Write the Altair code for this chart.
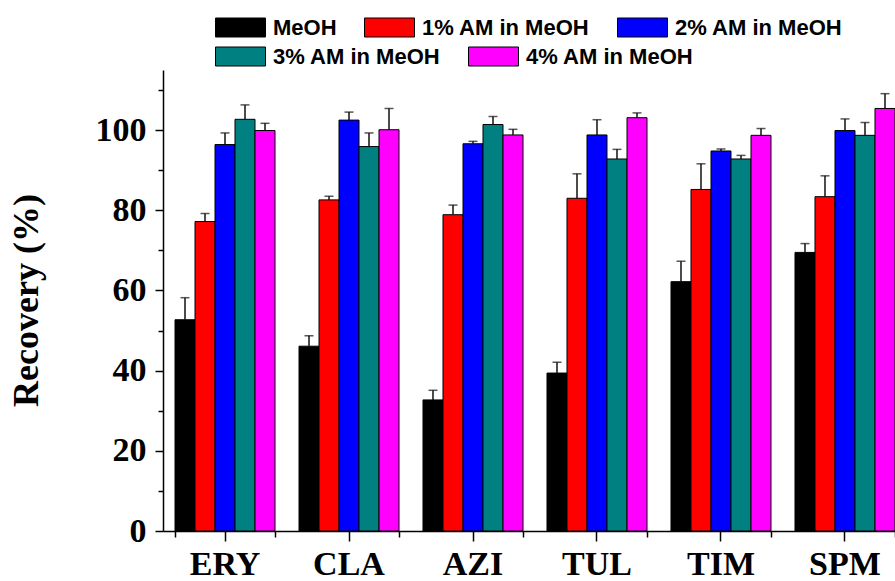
import altair as alt
import pandas as pd

drugs = ["ERY", "CLA", "AZI", "TUL", "TIM", "SPM"]
solvents = ["MeOH", "1% AM in MeOH", "2% AM in MeOH", "3% AM in MeOH", "4% AM in MeOH"]
colors = ["#000000", "#FF0000", "#0000FF", "#008080", "#FF00FF"]

meoh = [52.7, 46.1, 32.7, 39.4, 62.2, 69.5]
meoh_err = [5.5, 2.6, 2.4, 2.7, 5.1, 2.2]
am1 = [77.2, 82.6, 78.9, 83.0, 85.2, 83.4]
am1_err = [2.0, 0.9, 2.4, 6.1, 6.4, 5.2]
am2 = [96.4, 102.5, 96.6, 98.8, 94.8, 99.9]
am2_err = [2.9, 2.0, 0.6, 3.8, 0.5, 2.9]
am3 = [102.7, 95.9, 101.4, 92.8, 92.8, 98.7]
am3_err = [3.6, 3.4, 2.0, 2.4, 0.9, 3.2]
am4 = [99.9, 100.1, 98.8, 103.1, 98.7, 105.4]
am4_err = [1.8, 5.3, 1.4, 1.2, 1.7, 3.7]

y_major = [0, 20, 40, 60, 80, 100]
y_minor = [10, 30, 50, 70, 90, 110]

series = [meoh, am1, am2, am3, am4]
errors = [meoh_err, am1_err, am2_err, am3_err, am4_err]
rows = []
for s, vals, errs in zip(solvents, series, errors):
    for d, v, e in zip(drugs, vals, errs):
        rows.append({"drug": d, "solvent": s, "value": v, "err": e, "top": v + e})
df = pd.DataFrame(rows)

x_scale = alt.Scale(domain=drugs, range=[0, 744], paddingInner=0.1935, paddingOuter=0.0968)
xoff_scale = alt.Scale(domain=solvents, paddingInner=0, paddingOuter=0)
y_scale = alt.Scale(domain=[0, 115], nice=False, zero=True)

serif = "Liberation Serif"

x_major = alt.Axis(orient="bottom", title=None, labelAngle=0, labelFont=serif, labelFontWeight="bold",
                   labelFontSize=34, labelColor="black", labelPadding=6, tickSize=10, tickWidth=1.5,
                   tickColor="black", domainColor="black", domainWidth=1.5, grid=False)
x_minor = alt.Axis(orient="bottom", title=None, labels=False, domain=False, tickBand="extent",
                   tickSize=6, tickWidth=1.5, tickColor="black", grid=False)
y_major_axis = alt.Axis(orient="left", values=y_major, title="Recovery (%)", titleFont=serif,
                        titleFontWeight="bold", titleFontSize=36, titleColor="black",
                        titleX=-126, titleY=230, titleAngle=270, titleAlign="center",
                        titleBaseline="alphabetic",
                        labelFont=serif, labelFontWeight="bold", labelFontSize=34, labelColor="black",
                        labelPadding=9, tickSize=8, tickWidth=1.5, tickColor="black",
                        domainColor="black", domainWidth=1.5, grid=False)
y_minor_axis = alt.Axis(orient="left", values=y_minor, title=None, labels=False, domain=False,
                        tickSize=5, tickWidth=1.5, tickColor="black", grid=False)


def make_legend(y):
    return alt.Legend(title=None, orient="none", legendX=52, legendY=y, direction="horizontal",
                      symbolType="M-1,-0.38H1V0.38H-1Z", symbolSize=2500,
                      symbolStrokeColor="black", symbolStrokeWidth=1, symbolOpacity=1,
                      labelFont="Liberation Sans", labelFontWeight="bold", labelFontSize=22,
                      labelColor="black", labelLimit=400, columnPadding=25,
                      labelOffset=7, padding=0)


base = alt.Chart(df)
row1 = solvents[:3]
row2 = solvents[3:]

bars_a = base.transform_filter(alt.FieldOneOfPredicate(field="solvent", oneOf=row1)).mark_bar(
    stroke="black", strokeWidth=1, opacity=1).encode(
    x=alt.X("drug:N", scale=x_scale, sort=drugs, axis=x_major),
    xOffset=alt.XOffset("solvent:N", scale=xoff_scale, sort=solvents),
    y=alt.Y("value:Q", scale=y_scale, axis=y_major_axis),
    color=alt.Color("solvent:N", scale=alt.Scale(domain=row1, range=colors[:3]), sort=row1,
                    legend=make_legend(-68)),
)

bars_b = base.transform_filter(alt.FieldOneOfPredicate(field="solvent", oneOf=row2)).mark_bar(
    stroke="black", strokeWidth=1, opacity=1).encode(
    x=alt.X("drug:N", scale=x_scale, sort=drugs, axis=None),
    xOffset=alt.XOffset("solvent:N", scale=xoff_scale, sort=solvents),
    y=alt.Y("value:Q", scale=y_scale, axis=None),
    color=alt.Color("solvent:N", scale=alt.Scale(domain=row2, range=colors[3:]), sort=row2,
                    legend=make_legend(-39)),
)

stems = base.mark_rule(color="#111111", strokeWidth=1.5).encode(
    x=alt.X("drug:N", scale=x_scale, sort=drugs, axis=x_minor),
    xOffset=alt.XOffset("solvent:N", scale=xoff_scale, sort=solvents),
    y=alt.Y("value:Q", scale=y_scale, axis=y_minor_axis),
    y2="top:Q",
)

caps = base.mark_tick(color="#111111", thickness=1.5, size=9, orient="horizontal").encode(
    x=alt.X("drug:N", scale=x_scale, sort=drugs, axis=None),
    xOffset=alt.XOffset("solvent:N", scale=xoff_scale, sort=solvents),
    y=alt.Y("top:Q", scale=y_scale, axis=None),
)

chart = alt.layer(bars_a, bars_b, stems, caps).resolve_scale(color="independent").resolve_legend(
    color="independent").resolve_axis(x="independent", y="independent").properties(
    width=732, height=461,
    autosize=alt.AutoSizeParams(type="none"),
    padding={"left": 163, "top": 70, "right": 0, "bottom": 50},
    background="white",
).configure_view(stroke=None)

chart.save("out.html", embed_options={"renderer": "svg", "actions": False})
